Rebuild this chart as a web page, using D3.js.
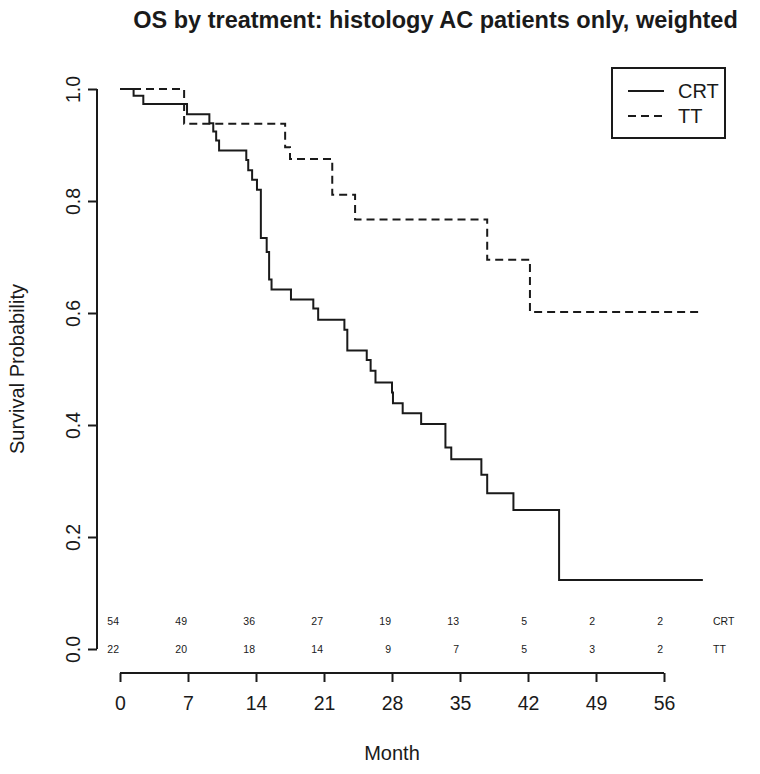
<!DOCTYPE html>
<html>
<head>
<meta charset="utf-8">
<script src="https://cdn.jsdelivr.net/npm/d3@7"></script>
<style>
  html, body { margin: 0; padding: 0; background: #fff; }
  svg { display: block; font-family: "Liberation Sans", Arial, Helvetica, sans-serif; }
</style>
</head>
<body>
<svg id="chart" width="760" height="774"></svg>
<script>
// ---- Data ----
const crtTimes = [0, 1.4, 2.4, 6.9, 9.2, 9.6, 9.9, 10.2, 13.0, 13.2, 13.6, 14.1, 14.5, 15.1, 15.35, 15.6, 17.6, 19.9, 20.4, 23.1, 23.4, 25.4, 25.8, 26.3, 28.0, 28.1, 29.1, 31.0, 33.5, 34.1, 37.2, 37.8, 40.5, 45.2];
const crtSurv  = [1.0, 0.988, 0.973, 0.955, 0.939, 0.924, 0.908, 0.890, 0.873, 0.855, 0.838, 0.820, 0.734, 0.709, 0.660, 0.642, 0.624, 0.608, 0.588, 0.570, 0.533, 0.516, 0.497, 0.476, 0.458, 0.439, 0.421, 0.402, 0.360, 0.339, 0.311, 0.278, 0.248, 0.123];
const crtEnd = 60.0;

const ttTimes = [0, 6.6, 17.0, 17.5, 21.85, 24.2, 37.8, 42.2];
const ttSurv  = [1.0, 0.938, 0.896, 0.875, 0.811, 0.767, 0.695, 0.602];
const ttEnd = 59.7;

const xTicks = [0, 7, 14, 21, 28, 35, 42, 49, 56];
const yTicks = [0, 0.2, 0.4, 0.6, 0.8, 1.0];
const riskTimes = [0, 7, 14, 21, 28, 35, 42, 49, 56];
const riskCRT = [54, 49, 36, 27, 19, 13, 5, 2, 2];
const riskTT  = [22, 20, 18, 14, 9, 7, 5, 3, 2];
const groups = ["CRT", "TT"];

const titleText = "OS by treatment: histology AC patients only, weighted";
const xLabel = "Month";
const yLabel = "Survival Probability";

// ---- Layout ----
const svg = d3.select("#chart");
const ink = "#1a1a1a";
const x = d3.scaleLinear().domain([0, 56]).range([120, 664]);
const y = d3.scaleLinear().domain([0, 1]).range([649, 89]);

// Title
svg.append("text")
  .attr("x", 435.5).attr("y", 28)
  .attr("text-anchor", "middle")
  .attr("font-weight", "bold")
  .attr("font-size", 23.5)
  .attr("fill", ink)
  .text(titleText);

// Y axis
const yAxis = svg.append("g")
  .attr("transform", "translate(97,0)")
  .call(d3.axisLeft(y).tickValues(yTicks).tickFormat(d3.format(".1f")).tickSize(9).tickSizeOuter(0));
yAxis.select(".domain").attr("stroke", ink).attr("stroke-width", 2)
  .attr("d", `M0,${y(0)}V${y(1)}`);
yAxis.selectAll(".tick line").attr("stroke", ink).attr("stroke-width", 2);
yAxis.selectAll(".tick text")
  .attr("font-size", 19.5).attr("fill", ink)
  .attr("font-family", "Liberation Sans, Arial, sans-serif")
  .attr("x", null)
  .attr("text-anchor", "middle")
  .attr("transform", "translate(-24,0) rotate(-90)")
  .attr("y", 0)
  .attr("dy", "0.35em");

// X axis
const xAxis = svg.append("g")
  .attr("transform", "translate(0,673)")
  .call(d3.axisBottom(x).tickValues(xTicks).tickSize(9).tickSizeOuter(0));
xAxis.select(".domain").attr("stroke", ink).attr("stroke-width", 2)
  .attr("d", `M${x(0)},0H${x(56)}`);
xAxis.selectAll(".tick line").attr("stroke", ink).attr("stroke-width", 2);
xAxis.selectAll(".tick text")
  .attr("font-size", 19.5).attr("fill", ink)
  .attr("font-family", "Liberation Sans, Arial, sans-serif")
  .attr("y", 23).attr("dy", "0.71em");

// Axis titles
svg.append("text")
  .attr("x", x(28)).attr("y", 760)
  .attr("text-anchor", "middle")
  .attr("font-size", 20).attr("fill", ink)
  .text(xLabel);
svg.append("text")
  .attr("transform", `translate(24,${y(0.5)}) rotate(-90)`)
  .attr("text-anchor", "middle")
  .attr("font-size", 20).attr("fill", ink)
  .text(yLabel);

// Curves
const line = d3.line().x(d => x(d[0])).y(d => y(d[1])).curve(d3.curveStepAfter);
function pts(times, surv, end) {
  const p = times.map((t, i) => [t, surv[i]]);
  p.push([end, surv[surv.length - 1]]);
  return p;
}
svg.append("path")
  .attr("d", line(pts(crtTimes, crtSurv, crtEnd)))
  .attr("fill", "none").attr("stroke", ink).attr("stroke-width", 2);
svg.append("path")
  .attr("d", line(pts(ttTimes, ttSurv, ttEnd)))
  .attr("fill", "none").attr("stroke", ink).attr("stroke-width", 2)
  .attr("stroke-dasharray", "8,5");

// Numbers at risk
const riskRows = [riskCRT, riskTT];
const riskY = [0.05, 0.0];
riskRows.forEach((row, gi) => {
  svg.append("g").selectAll("text")
    .data(row)
    .join("text")
    .attr("x", (d, i) => x(riskTimes[i]) - 1)
    .attr("y", y(riskY[gi]))
    .attr("dy", "0.35em")
    .attr("text-anchor", "end")
    .attr("font-size", 10.5)
    .attr("fill", ink)
    .text(d => d);
  svg.append("text")
    .attr("x", 713).attr("y", y(riskY[gi]))
    .attr("dy", "0.35em")
    .attr("font-size", 10.5).attr("fill", ink)
    .text(groups[gi]);
});

// Legend
const lg = svg.append("g");
lg.append("rect")
  .attr("x", 612).attr("y", 68).attr("width", 113).attr("height", 70)
  .attr("fill", "none").attr("stroke", ink).attr("stroke-width", 2);
const legY = [91, 116];
groups.forEach((g, i) => {
  lg.append("line")
    .attr("x1", 628).attr("x2", 664)
    .attr("y1", legY[i]).attr("y2", legY[i])
    .attr("stroke", ink).attr("stroke-width", 2)
    .attr("stroke-dasharray", i === 1 ? "8,5" : null);
  lg.append("text")
    .attr("x", 678).attr("y", legY[i])
    .attr("dy", "0.35em")
    .attr("font-size", 20).attr("fill", ink)
    .text(g);
});
</script>
</body>
</html>
